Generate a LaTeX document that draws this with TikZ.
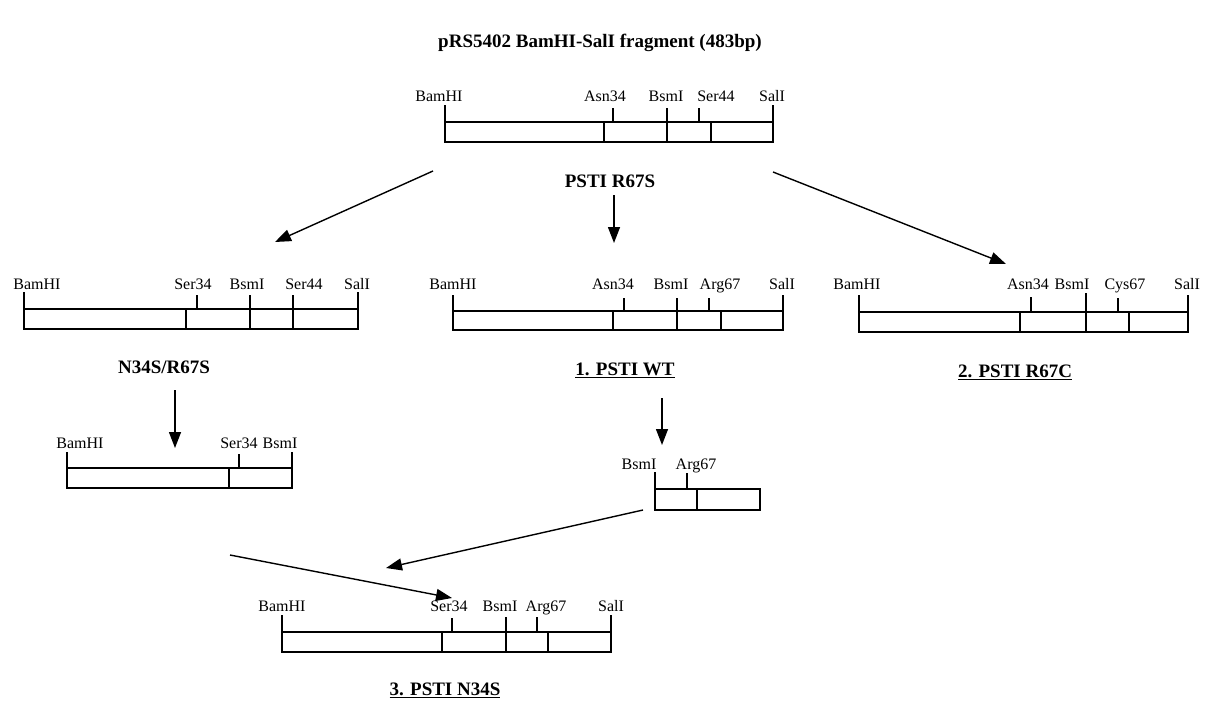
\documentclass[tikz,border=0pt]{standalone}
\usepackage{fontspec}
\setmainfont{Liberation Serif}
\usepackage{tikz}
\usetikzlibrary{arrows.meta, positioning}

\begin{document}
\begin{tikzpicture}[
    x=1pt, y=-1pt,
    heading/.style = {font=\fontsize{19}{22}\selectfont\bfseries, inner sep=0pt},
    variant/.style = {font=\fontsize{19}{22}\selectfont\bfseries, inner sep=0pt},
    site/.style = {font=\fontsize{16}{18}\selectfont, inner sep=0pt, anchor=base},
    frag/.style = {draw=black, line width=1.2pt},
    tick/.style = {draw=black, line width=1.3pt},
    arrow/.style = {draw=black, line width=1.4pt, -{Triangle[length=16pt, width=12pt]}}
]
\useasboundingbox (0,0) rectangle (1207,704);

% Title
\node (title) [heading, at={(600,43)}] {pRS5402 BamHI-SalI fragment (483bp)};

% Top fragment: PSTI R67S
\draw [frag] (445,122) rectangle (773,142);
\draw [frag] (604,122) -- (604,142);
\draw [frag] (711,122) -- (711,142);
\draw [tick] (445,105) -- (445,122);
\draw [tick] (613,108) -- (613,122);
\draw [tick] (667,108) -- (667,142);
\draw [tick] (699,108) -- (699,122);
\draw [tick] (773,105) -- (773,122);
\node (r67s_bam) [site, at={(439,101)}] {BamHI};
\node (r67s_asn) [site, at={(605,101)}] {Asn34};
\node (r67s_bsm) [site, at={(666,101)}] {BsmI};
\node (r67s_ser) [site, at={(716,101)}] {Ser44};
\node (r67s_sal) [site, at={(772,101)}] {SalI};
\node (r67s) [variant, at={(610,181)}] {PSTI R67S};

% Arrows from R67S
\coordinate (a1s) at (433,171);
\coordinate (a1e) at (275,242);
\coordinate (a2s) at (614,195);
\coordinate (a2e) at (614,243);
\coordinate (a3s) at (773,172);
\coordinate (a3e) at (1006,264);
\draw [arrow] (a1s) -- (a1e);
\draw [arrow] (a2s) -- (a2e);
\draw [arrow] (a3s) -- (a3e);

% Middle left fragment: N34S/R67S
\draw [frag] (24,309) rectangle (358,329);
\draw [frag] (186,309) -- (186,329);
\draw [tick] (24,292) -- (24,309);
\draw [tick] (197,295) -- (197,309);
\draw [tick] (250,295) -- (250,329);
\draw [tick] (293,295) -- (293,329);
\draw [tick] (358,292) -- (358,309);
\node (dbl_bam) [site, at={(37,289)}] {BamHI};
\node (dbl_ser34) [site, at={(193,289)}] {Ser34};
\node (dbl_bsm) [site, at={(247,289)}] {BsmI};
\node (dbl_ser44) [site, at={(304,289)}] {Ser44};
\node (dbl_sal) [site, at={(357,289)}] {SalI};
\node (dbl) [variant, at={(164,367)}] {N34S/R67S};

% Middle centre fragment: 1. PSTI WT
\draw [frag] (453,311) rectangle (783,330);
\draw [frag] (613,311) -- (613,330);
\draw [frag] (721,311) -- (721,330);
\draw [tick] (453,295) -- (453,311);
\draw [tick] (624,298) -- (624,311);
\draw [tick] (677,298) -- (677,330);
\draw [tick] (709,298) -- (709,311);
\draw [tick] (783,295) -- (783,311);
\node (wt_bam) [site, at={(453,289)}] {BamHI};
\node (wt_asn) [site, at={(613,289)}] {Asn34};
\node (wt_bsm) [site, at={(671,289)}] {BsmI};
\node (wt_arg) [site, at={(720,289)}] {Arg67};
\node (wt_sal) [site, at={(782,289)}] {SalI};
\node (wt) [variant, at={(625,370)}] {\underline{1. PSTI WT}};

% Middle right fragment: 2. PSTI R67C
\draw [frag] (859,312) rectangle (1188,332);
\draw [frag] (1020,312) -- (1020,332);
\draw [frag] (1129,312) -- (1129,332);
\draw [tick] (859,295) -- (859,312);
\draw [tick] (1031,297) -- (1031,312);
\draw [tick] (1086,293) -- (1086,332);
\draw [tick] (1118,298) -- (1118,312);
\draw [tick] (1188,295) -- (1188,312);
\node (r67c_bam) [site, at={(857,289)}] {BamHI};
\node (r67c_asn) [site, at={(1028,289)}] {Asn34};
\node (r67c_bsm) [site, at={(1072,289)}] {BsmI};
\node (r67c_cys) [site, at={(1125,289)}] {Cys67};
\node (r67c_sal) [site, at={(1187,289)}] {SalI};
\node (r67c) [variant, at={(1015,372)}] {\underline{2. PSTI R67C}};

% Down arrows
\coordinate (d1s) at (175,390);
\coordinate (d1e) at (175,448);
\coordinate (d2s) at (662,398);
\coordinate (d2e) at (662,445);
\draw [arrow] (d1s) -- (d1e);
\draw [arrow] (d2s) -- (d2e);

% Bottom left piece: BamHI-BsmI
\draw [frag] (67,468) rectangle (292,488);
\draw [frag] (229,468) -- (229,488);
\draw [tick] (67,452) -- (67,468);
\draw [tick] (239,454) -- (239,468);
\draw [tick] (292,452) -- (292,488);
\node (bl_bam) [site, at={(80,448)}] {BamHI};
\node (bl_ser) [site, at={(239,448)}] {Ser34};
\node (bl_bsm) [site, at={(280,448)}] {BsmI};

% Bottom right piece: BsmI-SalI
\draw [frag] (655,489) rectangle (760,510);
\draw [frag] (697,489) -- (697,510);
\draw [tick] (655,472) -- (655,510);
\draw [tick] (687,473) -- (687,489);
\node (br_bsm) [site, at={(639,469)}] {BsmI};
\node (br_arg) [site, at={(696,469)}] {Arg67};

% Ligation arrows
\coordinate (l1s) at (230,555);
\coordinate (l1e) at (452,598);
\coordinate (l2s) at (643,510);
\coordinate (l2e) at (386,568);
\draw [arrow] (l1s) -- (l1e);
\draw [arrow] (l2s) -- (l2e);

% Final fragment: 3. PSTI N34S
\draw [frag] (282,632) rectangle (611,652);
\draw [frag] (442,632) -- (442,652);
\draw [frag] (548,632) -- (548,652);
\draw [tick] (282,615) -- (282,632);
\draw [tick] (452,618) -- (452,632);
\draw [tick] (506,617) -- (506,652);
\draw [tick] (537,617) -- (537,632);
\draw [tick] (611,615) -- (611,632);
\node (n34s_bam) [site, at={(282,611)}] {BamHI};
\node (n34s_ser) [site, at={(449,611)}] {Ser34};
\node (n34s_bsm) [site, at={(500,611)}] {BsmI};
\node (n34s_arg) [site, at={(546,611)}] {Arg67};
\node (n34s_sal) [site, at={(611,611)}] {SalI};
\node (n34s) [variant, at={(445,690)}] {\underline{3. PSTI N34S}};

\end{tikzpicture}
\end{document}
